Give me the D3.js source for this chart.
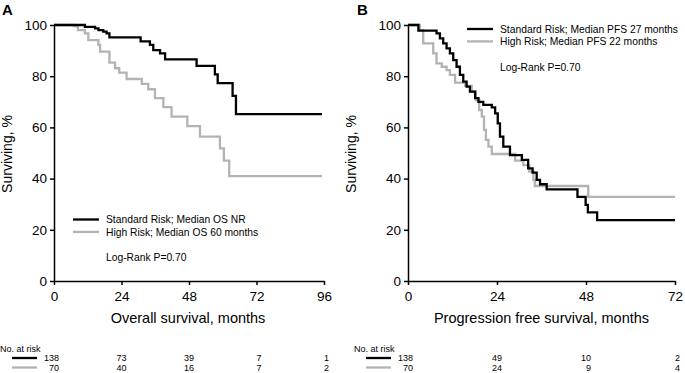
<!DOCTYPE html>
<html>
<head>
<meta charset="utf-8">
<script src="https://cdn.jsdelivr.net/npm/d3@7"></script>
<style>
  body { margin: 0; background: #fff; }
  svg { font-family: "Liberation Sans", Arial, sans-serif; }
  .axis path, .axis line { stroke: #000; stroke-width: 1.5; }
  .axis text { font-size: 13.5px; fill: #000; }
  .risk text { font-family: "Liberation Sans Narrow", "Liberation Sans", sans-serif; font-size: 9px; }
</style>
</head>
<body>
<div id="chart"></div>
<script>
// ---- data ----
const yTicks = [0, 20, 40, 60, 80, 100];
const osTicks = [0, 24, 48, 72, 96];
const pfsTicks = [0, 24, 48, 72];

// Panel A: overall survival (months, % surviving)
const osStdTimes = [0, 11, 14.6, 15.8, 17.5, 18.7, 19.7, 30.8, 34.1, 35.3, 37.7, 39.5, 50.7, 57.2, 58.2, 63.5, 64.7, 95.3];
const osStdSurv  = [100, 99.3, 98.7, 98, 97.4, 96.7, 95.2, 93.6, 92.2, 90.2, 88.9, 86.6, 84, 80.7, 77.3, 72.3, 65.2, 65.2];
const osHighTimes = [0, 7.1, 8.5, 11, 12.2, 15.8, 16.4, 19.7, 21.7, 23.2, 25.8, 31.2, 33.5, 35.9, 38.9, 41.8, 47.4, 51.9, 59, 60.4, 62.3, 95.3];
const osHighSurv  = [100, 99.6, 98, 96.7, 94.1, 92.2, 89.6, 85.3, 83.1, 81.4, 78.9, 77, 74.9, 71.4, 67.9, 64.2, 60.5, 56.4, 51.8, 47, 41, 41];

// Panel B: progression free survival
const pfsStdTimes = [0, 2.8, 7.7, 8.6, 9.5, 10.4, 11.3, 12.2, 13.1, 14, 14.9, 15.8, 16.7, 18.1, 19, 20.3, 22.6, 23.5, 24.2, 24.8, 25.7, 27.5, 30.7, 32.4, 33.6, 34.7, 35.6, 37.4, 45.7, 47.9, 48.5, 51, 72];
const pfsStdSurv  = [100, 97.8, 96.7, 94.8, 92.8, 90.9, 88.9, 86.3, 83.7, 80.5, 77.9, 75.9, 74, 71.4, 70, 68.8, 67.8, 65.5, 61.6, 56.4, 52.5, 49.2, 47.3, 44, 42.3, 39.5, 37.8, 35.8, 32.9, 29.7, 26.8, 23.8, 23.8];
const pfsHighTimes = [0, 3.2, 4.1, 6.8, 7.7, 9.1, 10.4, 11.3, 12.7, 15.4, 17.2, 18.3, 19.2, 19.9, 20.5, 21, 21.7, 22.6, 28.9, 31.1, 32.7, 33.8, 34.2, 48.6, 72];
const pfsHighSurv  = [100, 98, 92.8, 88.9, 85, 83.7, 82.4, 80.5, 77.5, 76.2, 74, 70.7, 66.8, 64.2, 59, 55.1, 52.5, 49.6, 47, 45.3, 42.7, 39.5, 37.1, 32.9, 32.9];

// numbers at risk
const osRiskStd = [138, 73, 39, 7, 1];
const osRiskHigh = [70, 40, 16, 7, 2];
const pfsRiskStd = [138, 49, 10, 2];
const pfsRiskHigh = [70, 24, 9, 4];

const seriesColors = { std: "#000000", high: "#b3b3b3" };

const svg = d3.select("#chart").append("svg")
    .attr("width", 685).attr("height", 373);

function drawPanel(opt) {
    let g = svg.append("g");
    let x = d3.scaleLinear().domain([0, opt.ticks[opt.ticks.length - 1]]).range(opt.xRange);
    let y = d3.scaleLinear().domain([0, 100]).range([281, 25]);

    g.append("g").classed("axis", true)
        .attr("transform", `translate(${opt.xRange[0]},0)`)
        .call(d3.axisLeft(y).tickValues(yTicks).tickSize(4).tickSizeOuter(0).tickPadding(3));
    g.append("g").classed("axis", true)
        .attr("transform", "translate(0,281)")
        .call(d3.axisBottom(x).tickValues(opt.ticks).tickSize(4).tickSizeOuter(0).tickPadding(6));

    let lineGen = d3.line()
        .x(d => x(d[0]))
        .y(d => y(d[1]))
        .curve(d3.curveStepAfter);

    // grey first so the black curve sits on top
    let curves = [
        { key: "high", pts: d3.zip(opt.highTimes, opt.highSurv) },
        { key: "std", pts: d3.zip(opt.stdTimes, opt.stdSurv) }
    ];
    g.selectAll("path.km").data(curves).join("path")
        .classed("km", true)
        .attr("fill", "none")
        .attr("stroke", d => seriesColors[d.key])
        .attr("stroke-width", 2.3)
        .attr("d", d => lineGen(d.pts));

    // panel letter
    g.append("text").attr("x", opt.letterX).attr("y", 15)
        .style("font-weight", "bold").style("font-size", "15px").text(opt.letter);

    // axis titles
    g.append("text")
        .attr("transform", `translate(${opt.yTitleX},154) rotate(-90)`)
        .attr("text-anchor", "middle").style("font-size", "14px")
        .text("Surviving, %");
    g.append("text")
        .attr("x", (opt.xRange[0] + opt.xRange[1]) / 2 + opt.titleShift).attr("y", 323)
        .attr("text-anchor", "middle").style("font-size", "14.5px")
        .text(opt.xTitle);

    // legend
    let leg = g.append("g");
    opt.legend.forEach((l, i) => {
        let ly = opt.legendY + i * 12.4;
        leg.append("line")
            .attr("x1", opt.legendX).attr("x2", opt.legendX + 26)
            .attr("y1", ly).attr("y2", ly)
            .attr("stroke", seriesColors[l.key]).attr("stroke-width", 2.3);
        leg.append("text").attr("x", opt.legendX + 33).attr("y", ly + 3.7)
            .style("font-size", "10.3px").text(l.text);
    });
    leg.append("text").attr("x", opt.legendX + 33).attr("y", opt.legendY + 41.5)
        .style("font-size", "10.3px").text("Log-Rank P=0.70");

    // numbers at risk
    let risk = g.append("g").classed("risk", true);
    risk.append("text").attr("x", opt.riskX).attr("y", 352).text("No. at risk");
    [["std", opt.riskStd, 358], ["high", opt.riskHigh, 367.5]].forEach(([key, vals, ry]) => {
        risk.append("line")
            .attr("x1", opt.riskX + 12).attr("x2", opt.riskX + 37)
            .attr("y1", ry).attr("y2", ry)
            .attr("stroke", seriesColors[key]).attr("stroke-width", 2.3);
        risk.selectAll(null).data(vals).join("text")
            .attr("x", (d, i) => x(opt.ticks[i]) + 5)
            .attr("y", ry + 3.3)
            .attr("text-anchor", "end")
            .text(d => d);
    });
}

drawPanel({
    letter: "A", letterX: 2, xRange: [54, 324], ticks: osTicks,
    stdTimes: osStdTimes, stdSurv: osStdSurv, highTimes: osHighTimes, highSurv: osHighSurv,
    yTitleX: 12, xTitle: "Overall survival, months", titleShift: -1,
    legendX: 73, legendY: 219.5,
    legend: [{ key: "std", text: "Standard Risk; Median OS NR" }, { key: "high", text: "High Risk; Median OS 60 months" }],
    riskX: 0, riskStd: osRiskStd, riskHigh: osRiskHigh
});

drawPanel({
    letter: "B", letterX: 357, xRange: [408, 675], ticks: pfsTicks,
    stdTimes: pfsStdTimes, stdSurv: pfsStdSurv, highTimes: pfsHighTimes, highSurv: pfsHighSurv,
    yTitleX: 356, xTitle: "Progression free survival, months", titleShift: 0,
    legendX: 467, legendY: 29,
    legend: [{ key: "std", text: "Standard Risk; Median PFS 27 months" }, { key: "high", text: "High Risk; Median PFS 22 months" }],
    riskX: 354, riskStd: pfsRiskStd, riskHigh: pfsRiskHigh
});
</script>
</body>
</html>
